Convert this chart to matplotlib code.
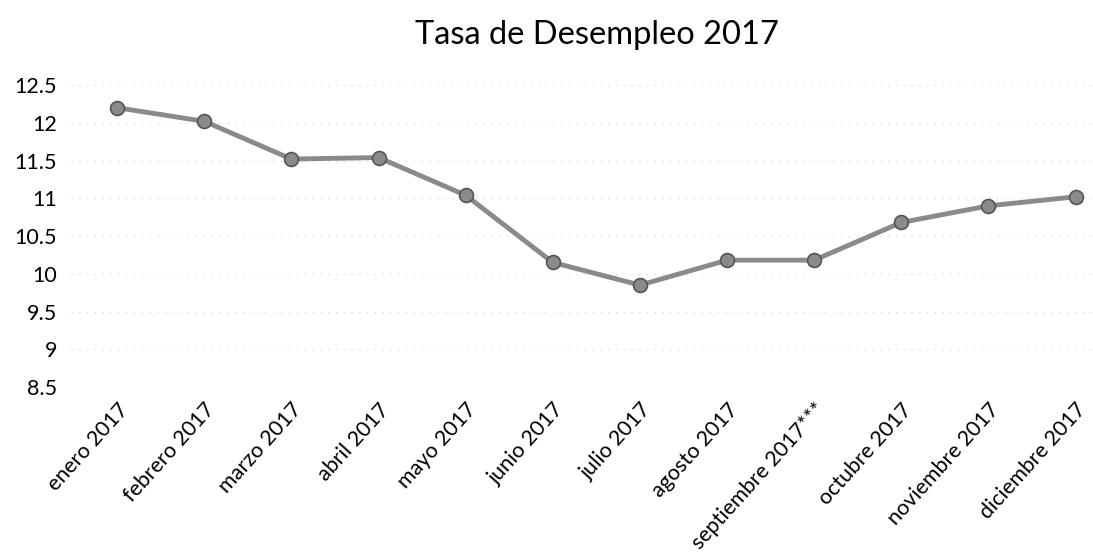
import matplotlib
matplotlib.use("Agg")
import matplotlib.pyplot as plt

plt.rcParams['font.family'] = ['Lato', 'DejaVu Sans']

# datos
meses = ["enero 2017", "febrero 2017", "marzo 2017", "abril 2017", "mayo 2017",
         "junio 2017", "julio 2017", "agosto 2017", "septiembre 2017***",
         "octubre 2017", "noviembre 2017", "diciembre 2017"]
tasa = [12.2, 12.02, 11.52, 11.54, 11.04, 10.15, 9.85, 10.18, 10.18, 10.68, 10.9, 11.02]
y_ticks = [8.5, 9, 9.5, 10, 10.5, 11, 11.5, 12, 12.5]
y_labels = ["8.5", "9", "9.5", "10", "10.5", "11", "11.5", "12", "12.5"]

fig = plt.figure(figsize=(10.93, 5.58), dpi=100)
ax = fig.add_axes([0.065, 0.3065, 0.935, 0.541])

x = list(range(len(meses)))
ax.plot(x, tasa, color="#8a8a8a", linewidth=3.5, marker="o", markersize=10,
        markerfacecolor="#8a8a8a", markeredgecolor="#555555", markeredgewidth=1.2,
        zorder=3, clip_on=False)

ax.set_xlim(-0.53, 11.2)
ax.set_ylim(8.5, 12.5)
ax.set_yticks(y_ticks)
ax.set_yticklabels(y_labels, fontsize=15.5)
ax.set_xticks(x)
ax.set_xticklabels(meses, fontsize=15.5, rotation=48, ha="right", rotation_mode="anchor")

# grilla muy tenue (escaneo)
ax.grid(axis="y", color="#d0d0d0", linestyle=(0, (1, 6)), linewidth=0.8)
ax.tick_params(axis="y", length=0, pad=10)
ax.tick_params(axis="x", length=0, pad=9)
for s in ax.spines.values():
    s.set_visible(False)

fig.suptitle("Tasa de Desempleo 2017", fontsize=23.5, x=0.546, y=0.937, va="center")

fig.savefig("out.png", dpi=100)
